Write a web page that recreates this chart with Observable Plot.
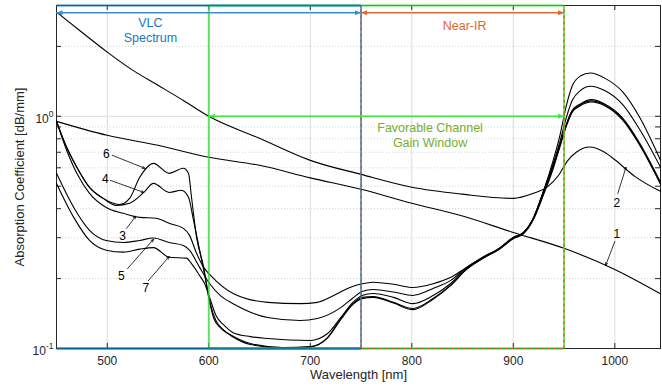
<!DOCTYPE html>
<html><head><meta charset="utf-8">
<script src="https://cdn.jsdelivr.net/npm/d3@7"></script>
<script src="https://cdn.jsdelivr.net/npm/@observablehq/plot@0.6"></script>
<style>
body{margin:0;background:#fff;}
</style></head><body><div id="chart"></div>
<script>
// ---- axes ----
const xTicks = [500, 600, 700, 800, 900, 1000];
const yMajor = [0.1, 1];
const yMinor = [0.2, 0.3, 0.4, 0.5, 0.6, 0.7, 0.8, 0.9, 2, 3];
const yMajorLabels = ["10^-1", "10^0"];

// ---- curves (wavelength nm, absorption dB/mm) ----
const c1x = [450, 500, 550, 600, 650, 700, 750, 800, 850, 900, 950, 1000, 1045];
const c1y = [0.951, 0.828, 0.75, 0.666, 0.615, 0.543, 0.485, 0.422, 0.372, 0.316, 0.27, 0.219, 0.172];

const c2x = [450, 475, 500, 525, 550, 575, 600, 650, 700, 750, 800, 850, 900, 920, 933, 945, 953, 962, 975, 990, 1000, 1020, 1045];
const c2y = [2.81, 2.30, 1.89, 1.58, 1.36, 1.17, 1.0, 0.804, 0.646, 0.562, 0.495, 0.462, 0.443, 0.466, 0.494, 0.56, 0.64, 0.70, 0.738, 0.70, 0.65, 0.55, 0.475];

const c3x = [450, 460, 470, 482.5, 499, 516, 532, 548, 561, 575, 581, 588, 595, 602, 624, 658, 690, 707, 723, 739, 751, 762, 782, 801, 821, 838, 854, 870, 887, 900, 910, 920, 929, 939, 946, 952, 958, 966, 976, 990, 1008, 1025, 1045];
const c3y = [0.951, 0.714, 0.568, 0.466, 0.405, 0.382, 0.367, 0.364, 0.346, 0.329, 0.307, 0.257, 0.2235, 0.206, 0.1726, 0.158, 0.156, 0.158, 0.169, 0.183, 0.19, 0.193, 0.189, 0.183, 0.19, 0.202, 0.2235, 0.247, 0.272, 0.301, 0.316, 0.367, 0.466, 0.64, 0.83, 1.10, 1.35, 1.49, 1.537, 1.46, 1.27, 0.98, 0.646];

const c4x = [450, 460, 470, 482.5, 496, 509, 522, 536, 545.5, 561, 573, 580, 585, 591, 598, 602, 607, 614, 624, 641, 673, 700, 717, 730, 742, 751, 762, 782, 801, 821, 838, 854, 870, 887, 900, 910, 920, 929, 939, 946, 952, 958, 966, 977, 990, 1008, 1025, 1045];
const c4y = [0.951, 0.735, 0.603, 0.494, 0.443, 0.413, 0.422, 0.47, 0.514, 0.47, 0.48, 0.448, 0.356, 0.265, 0.187, 0.153, 0.132, 0.121, 0.112, 0.104, 0.1005, 0.1015, 0.111, 0.133, 0.155, 0.164, 0.166, 0.157, 0.147, 0.163, 0.186, 0.219, 0.244, 0.269, 0.297, 0.312, 0.36, 0.45, 0.59, 0.74, 0.90, 1.04, 1.11, 1.152, 1.11, 0.96, 0.745, 0.51];

const c5x = [450, 467, 482.5, 499, 516, 532, 545.5, 561, 575, 581, 591, 601, 612, 624, 658, 690, 707, 730, 742, 751, 762, 782, 801, 821, 838, 854, 870, 887, 900, 910, 920, 929, 939, 946, 952, 958, 966, 976, 990, 1008, 1025, 1045];
const c5y = [0.568, 0.405, 0.323, 0.292, 0.286, 0.292, 0.299, 0.286, 0.278, 0.265, 0.2235, 0.19, 0.168, 0.156, 0.136, 0.132, 0.1346, 0.15, 0.165, 0.176, 0.1796, 0.175, 0.1692, 0.1814, 0.196, 0.2235, 0.247, 0.272, 0.301, 0.316, 0.367, 0.466, 0.62, 0.78, 0.98, 1.17, 1.29, 1.347, 1.29, 1.12, 0.87, 0.603];

const c6x = [450, 460, 470, 482.5, 496, 506, 512, 522, 532, 545.5, 561, 575, 580, 583, 588, 595, 600, 605, 612, 624, 641, 673, 700, 717, 730, 742, 751, 762, 782, 801, 821, 838, 854, 870, 887, 900, 910, 920, 929, 939, 946, 952, 958, 966, 977, 990, 1008, 1025, 1045];
const c6y = [0.951, 0.735, 0.603, 0.494, 0.443, 0.422, 0.417, 0.443, 0.546, 0.627, 0.568, 0.597, 0.568, 0.448, 0.301, 0.2235, 0.165, 0.1346, 0.122, 0.113, 0.105, 0.101, 0.102, 0.1115, 0.1346, 0.156, 0.166, 0.1675, 0.158, 0.1487, 0.1643, 0.187, 0.22, 0.245, 0.27, 0.298, 0.313, 0.363, 0.455, 0.60, 0.75, 0.91, 1.05, 1.12, 1.165, 1.12, 0.97, 0.75, 0.515];

const c7x = [450, 467, 482.5, 499, 516, 532, 545.5, 561, 578, 583, 591, 596, 601, 607, 615, 624, 641, 658, 700, 717, 730, 742, 751, 762, 782, 801, 821, 838, 854, 870, 887, 900, 910, 920, 929, 939, 946, 952, 958, 966, 977, 990, 1008, 1025, 1045];
const c7y = [0.514, 0.367, 0.292, 0.265, 0.26, 0.268, 0.272, 0.247, 0.245, 0.232, 0.206, 0.19, 0.165, 0.139, 0.126, 0.117, 0.1125, 0.1104, 0.1083, 0.116, 0.136, 0.158, 0.169, 0.1726, 0.166, 0.156, 0.169, 0.19, 0.222, 0.246, 0.27, 0.30, 0.315, 0.365, 0.46, 0.61, 0.76, 0.92, 1.06, 1.13, 1.18, 1.13, 0.98, 0.76, 0.52];

// ---- curve labels ----
const labelNames = ["1", "2", "3", "4", "5", "6", "7"];
const labelX = [1002, 1002, 515, 498, 514, 499, 538];
const labelY = [0.310, 0.422, 0.304, 0.535, 0.204, 0.686, 0.1815];
const arrowX1 = [1000, 1003, 519, 503, 520, 505, 540.5];
const arrowY1 = [0.289, 0.466, 0.329, 0.530, 0.221, 0.679, 0.196];
const arrowX2 = [991, 1011, 528, 536, 545.5, 537, 561];
const arrowY2 = [0.228, 0.603, 0.371, 0.470, 0.295, 0.597, 0.249];

// ---- regions ----
const vlcRange = [450, 750];
const nirRange = [750, 950];
const favRange = [600, 950];
const yBottom = 0.1, yTop = 3;
const topArrowY = 2.79;
const favArrowY = 1.0;
const blue = "#0072BD", orange = "#D95319", green = "#2fe02f", olive = "#77AC30";

// ---- build tables ----
const series = [[c1x, c1y], [c2x, c2y], [c3x, c3y], [c4x, c4y], [c5x, c5y], [c6x, c6y], [c7x, c7y]];
const rows = [];
series.forEach(([xs, ys], i) => xs.forEach((x, j) => rows.push({curve: i + 1, x, y: ys[j]})));
const labels = labelNames.map((t, i) => ({t, x: labelX[i], y: labelY[i], x1: arrowX1[i], y1: arrowY1[i], x2: arrowX2[i], y2: arrowY2[i]}));

const tk = Math.pow(10, 5 / 232);               // inward tick length (log units)
const tkx = 5 * (1045 - 450) / 604;              // inward tick length (nm)

const segs = [
  {x1: favRange[0], x2: favRange[0], y1: yBottom, y2: yTop, c: green, w: 2, d: false, o: 0.75},
  {x1: favRange[1], x2: favRange[1], y1: yBottom, y2: yTop, c: green, w: 2, d: false, o: 0.75},
  {x1: favRange[0], x2: favRange[1], y1: yBottom, y2: yBottom, c: green, w: 2.5, d: false, o: 0.75},
  {x1: favRange[0], x2: favRange[1], y1: yTop, y2: yTop, c: green, w: 2, d: false, o: 0.75},
  {x1: vlcRange[0], x2: vlcRange[1], y1: yTop, y2: yTop, c: blue, w: 2, d: false, o: 0.8},
  {x1: vlcRange[0], x2: vlcRange[1], y1: yBottom, y2: yBottom, c: blue, w: 2.5, d: false, o: 0.8},
  {x1: vlcRange[1], x2: vlcRange[1], y1: yBottom, y2: yTop, c: blue, w: 1.5, d: false, o: 0.9},
  {x1: nirRange[0], x2: nirRange[0], y1: yBottom, y2: yTop, c: orange, w: 1.2, d: true, o: 1},
  {x1: nirRange[1], x2: nirRange[1], y1: yBottom, y2: yTop, c: orange, w: 1.2, d: true, o: 1},
  {x1: nirRange[0], x2: nirRange[1], y1: yBottom, y2: yBottom, c: orange, w: 1.2, d: true, o: 1},
  {x1: nirRange[0], x2: nirRange[1], y1: yTop, y2: yTop, c: orange, w: 1.2, d: true, o: 1}
];
const segMark = (d) => Plot.link(segs.filter(s => s.d === d), {
  x1: "x1", x2: "x2", y1: "y1", y2: "y2", stroke: "c", strokeWidth: "w", strokeOpacity: "o",
  strokeDasharray: d ? "3,3" : null
});

const dbl = [
  {x1: vlcRange[0], x2: vlcRange[1], y: topArrowY, c: "#3b8ed0"},
  {x1: nirRange[0], x2: nirRange[1], y: topArrowY, c: "#e06a36"},
  {x1: favRange[0], x2: favRange[1], y: favArrowY, c: "#3ce83c"}
];
const heads = dbl.flatMap(a => [{x: a.x1, y: a.y, r: -90, c: a.c}, {x: a.x2, y: a.y, r: 90, c: a.c}]);

const texts = [
  {t: "VLC\nSpectrum", x: 542.5, y: 2.36, c: "#1878c4"},
  {t: "Near-IR", x: 852, y: 2.47, c: "#e0652e"},
  {t: "Favorable Channel\nGain Window", x: 818, y: 0.832, c: olive}
];

const font = "'Liberation Sans', Arial, Helvetica, sans-serif";
const axc = "#262626";

const svg = Plot.plot({
  width: 662, height: 390,
  marginLeft: 56, marginRight: 2, marginTop: 5, marginBottom: 42,
  style: {fontFamily: font, fontSize: "12px", color: axc, background: "#fff"},
  x: {domain: [450, 1045], axis: null},
  y: {type: "log", domain: [yBottom, yTop], axis: null},
  marks: [
    Plot.ruleX(xTicks, {stroke: "#dcdcdc", strokeWidth: 1}),
    Plot.ruleY(yMinor, {stroke: "#c8c8c8", strokeDasharray: "1,2", strokeWidth: 0.8}),
    Plot.ruleY([1], {stroke: "#dcdcdc", strokeWidth: 1}),
    Plot.frame({stroke: axc, strokeWidth: 1}),
    Plot.ruleX(xTicks, {y1: yBottom, y2: yBottom * tk, stroke: axc}),
    Plot.ruleX(xTicks, {y1: yTop, y2: yTop / tk, stroke: axc}),
    Plot.ruleY(yMajor.concat(yMinor), {x1: 450, x2: 450 + tkx, stroke: axc}),
    Plot.ruleY(yMajor.concat(yMinor), {x1: 1045, x2: 1045 - tkx, stroke: axc}),
    Plot.line(rows, {x: "x", y: "y", z: "curve", stroke: "#000", strokeWidth: 1.1, curve: "monotone-x"}),
    segMark(false),
    segMark(true),
    Plot.ruleY(dbl, {y: "y", x1: "x1", x2: "x2", stroke: "c", strokeWidth: 1.5}),
    Plot.vector(heads, {x: "x", y: "y", rotate: "r", length: 6, r: 2.5, shape: "spike", anchor: "end", fill: "c", stroke: "none"}),
    Plot.text(texts, {x: "x", y: "y", text: "t", fill: "c", fontSize: 12.5, lineHeight: 1.2}),
    Plot.arrow(labels, {x1: "x1", y1: "y1", x2: "x2", y2: "y2", stroke: "#000", strokeWidth: 0.8, headLength: 5, headAngle: 50}),
    Plot.text(labels, {x: "x", y: "y", text: "t", fill: "#000", fontSize: 12}),
    Plot.text(xTicks, {x: d => d, y: yBottom, dy: 13, text: d => String(d), fill: axc, fontSize: 12}),
    Plot.text(yMajor, {x: 450, y: d => d, dx: -3, dy: 3, text: (d, i) => yMajorLabels[i], textAnchor: "end", fill: axc, fontSize: 12}),
    Plot.text(["Wavelength [nm]"], {frameAnchor: "bottom", dy: 30, fill: axc, fontSize: 13}),
    Plot.text(["Absorption Coefficient [dB/mm]"], {frameAnchor: "left", dx: -37, rotate: -90, textAnchor: "middle", fill: axc, fontSize: 13})
  ]
});

d3.select(svg).selectAll("text").filter(function () { return this.textContent.includes("^"); }).each(function () {
  const parts = this.textContent.split("^");
  const s = d3.select(this);
  s.text(null);
  s.append("tspan").text(parts[0]);
  s.append("tspan").attr("dy", -6).attr("font-size", 8.5).text(parts[1]);
});

document.getElementById("chart").appendChild(svg);
</script>
</body></html>
